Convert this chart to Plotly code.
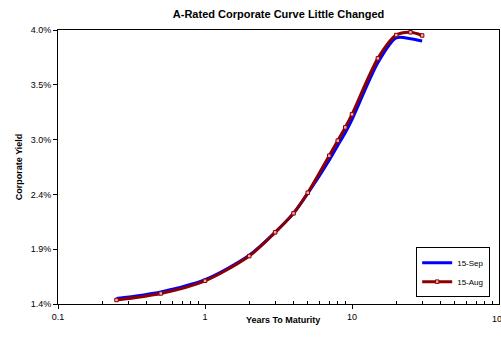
import plotly.graph_objects as go

maturities = [0.25, 0.5, 1, 2, 3, 4, 5, 7, 8, 9, 10, 15, 20, 25, 30]
sep_yield = [1.452, 1.515, 1.630, 1.862, 2.080, 2.262, 2.450, 2.765, 2.905, 3.025, 3.150, 3.690, 3.925, 3.918, 3.895]
aug_yield = [1.438, 1.500, 1.620, 1.855, 2.080, 2.260, 2.456, 2.807, 2.950, 3.076, 3.200, 3.731, 3.952, 3.978, 3.948]

y_ticks = [1.4, 1.92, 2.44, 2.96, 3.48, 4.0]
y_labels = ["1.4%", "1.9%", "2.4%", "3.0%", "3.5%", "4.0%"]
x_ticks = [0.1, 1, 10, 100]
x_labels = ["0.1", "1", "10", "100"]
x_minor = [0.2, 0.3, 0.4, 0.5, 0.6, 0.7, 0.8, 0.9, 2, 3, 4, 5, 6, 7, 8, 9, 20, 30, 40, 50, 60, 70, 80, 90]

FONT = "Liberation Sans, Arial, sans-serif"

fig = go.Figure()
fig.add_trace(go.Scatter(
    x=maturities, y=sep_yield, name="15-Sep", mode="lines",
    line=dict(color="#0000FF", width=3, shape="spline", smoothing=0.8),
))
fig.add_trace(go.Scatter(
    x=maturities, y=aug_yield, name="15-Aug", mode="lines+markers",
    line=dict(color="#8B0000", width=3, shape="spline", smoothing=0.8),
    marker=dict(symbol="square", size=3.5, color="#E8B0B0", line=dict(color="#8B0000", width=1)),
))

fig.update_layout(
    width=501, height=354,
    margin=dict(l=58, r=2, t=30, b=50),
    paper_bgcolor="white", plot_bgcolor="white",
    font=dict(family=FONT, size=9, color="black"),
    title=dict(text="<b>A-Rated Corporate Curve Little Changed</b>", x=0.556, xanchor="center",
               y=0.96, yanchor="middle", font=dict(family=FONT, size=11, color="black")),
    showlegend=True,
    legend=dict(x=0.98, xanchor="right", y=0.025, yanchor="bottom",
                bordercolor="black", borderwidth=1, bgcolor="white",
                font=dict(family=FONT, size=8), tracegroupgap=0, itemwidth=30),
    annotations=[
        dict(text="<b>Years To Maturity</b>", xref="paper", yref="paper", x=0.51, y=-0.06,
             xanchor="center", yanchor="middle", showarrow=False, font=dict(family=FONT, size=9)),
        dict(text="<b>Corporate Yield</b>", xref="paper", yref="paper", x=-0.088, y=0.5,
             xanchor="center", yanchor="middle", textangle=-90, showarrow=False,
             font=dict(family=FONT, size=9)),
        dict(text=x_labels[-1], xref="x", yref="paper", x=2, y=0, yshift=-8,
             xanchor="center", yanchor="top", showarrow=False, font=dict(family=FONT, size=9)),
    ],
)
fig.update_xaxes(
    type="log", range=[-1, 2],
    tickvals=x_ticks[:-1], ticktext=x_labels[:-1],
    ticks="outside", ticklen=4, tickcolor="black",
    minor=dict(tickvals=x_minor, ticks="inside", ticklen=3, tickcolor="black"),
    showline=True, linecolor="black", linewidth=1, mirror=True,
    showgrid=False, zeroline=False,
)
fig.update_yaxes(
    range=[1.4, 4.0],
    tickvals=y_ticks, ticktext=y_labels,
    ticks="outside", ticklen=4, tickcolor="black",
    showline=True, linecolor="black", linewidth=1, mirror=True,
    showgrid=False, zeroline=False,
)

fig.write_html("out.html", config={"displayModeBar": False},
               post_script="document.body.style.margin='0';")
